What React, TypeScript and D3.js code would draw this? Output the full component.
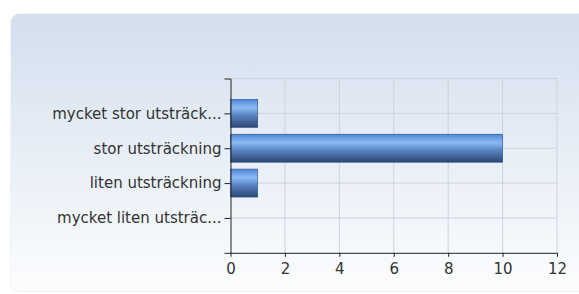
import React, { useEffect, useRef } from 'react';
import * as d3 from 'd3';

const categories = [
  'mycket stor utsträck...',
  'stor utsträckning',
  'liten utsträckning',
  'mycket liten utsträc...',
];
const counts = [1, 10, 1, 0];
const xTicks = [0, 2, 4, 6, 8, 10, 12];

const App = () => {
  const ref = useRef<SVGSVGElement | null>(null);

  useEffect(() => {
    const svg = d3.select(ref.current);
    svg.selectAll('*').remove();

    const left = 230.5;
    const right = 557;
    const top = 78.5;
    const bottom = 252.8;
    const font = '"DejaVu Sans", Verdana, sans-serif';

    const defs = svg.append('defs');
    const bg = defs.append('linearGradient').attr('id', 'bg').attr('x1', 0).attr('y1', 0).attr('x2', 0).attr('y2', 1);
    bg.append('stop').attr('offset', '0%').attr('stop-color', '#d3dfee');
    bg.append('stop').attr('offset', '100%').attr('stop-color', '#fcfdfe');

    const bar = defs.append('linearGradient').attr('id', 'bar').attr('x1', 0).attr('y1', 0).attr('x2', 0).attr('y2', 1);
    bar.append('stop').attr('offset', '0%').attr('stop-color', '#4f86d8');
    bar.append('stop').attr('offset', '30%').attr('stop-color', '#8cbaf4');
    bar.append('stop').attr('offset', '55%').attr('stop-color', '#5d88c6');
    bar.append('stop').attr('offset', '100%').attr('stop-color', '#2a4672');

    // panel
    svg.append('rect')
      .attr('x', 10.5).attr('y', 13.5)
      .attr('width', 600).attr('height', 278)
      .attr('rx', 9)
      .attr('fill', 'url(#bg)')
      .attr('stroke', '#f1f3f6');

    const x = d3.scaleLinear().domain([0, 12]).range([left, right]);
    const y = d3.scalePoint<string>().domain(categories).range([top, bottom]).padding(1);
    const barH = 28;

    const g = svg.append('g');

    // grid
    g.selectAll('.vg')
      .data(xTicks.slice(1))
      .enter().append('line')
      .attr('x1', (d) => x(d)).attr('x2', (d) => x(d))
      .attr('y1', top).attr('y2', bottom)
      .attr('stroke', '#cdd3dc').attr('stroke-width', 1);
    g.selectAll('.hg')
      .data([top, ...categories.map((c) => y(c) as number)])
      .enter().append('line')
      .attr('x1', left).attr('x2', right)
      .attr('y1', (d) => d).attr('y2', (d) => d)
      .attr('stroke', '#cdd3dc').attr('stroke-width', 1);

    // bars
    g.selectAll('.bar')
      .data(categories.map((c, i) => ({ c, v: counts[i] })).filter((d) => d.v > 0))
      .enter().append('rect')
      .attr('x', x(0))
      .attr('y', (d) => (y(d.c) as number) - barH / 2)
      .attr('width', (d) => x(d.v) - x(0))
      .attr('height', barH)
      .attr('fill', 'url(#bar)')
      .attr('stroke', '#2d4f86')
      .attr('stroke-width', 0.6);

    // y axis
    const yAxis = g.append('g')
      .attr('transform', `translate(${left},0)`)
      .call(d3.axisLeft(y).tickSizeInner(6).tickSizeOuter(6).tickPadding(3));
    yAxis.select('.domain').attr('stroke', '#222');
    yAxis.selectAll('.tick line').attr('stroke', '#222');
    yAxis.selectAll('text')
      .attr('fill', '#333')
      .style('font-family', font)
      .style('font-size', '15px');

    // x axis
    const xAxis = g.append('g')
      .attr('transform', `translate(0,${bottom})`)
      .call(d3.axisBottom(x).tickValues(xTicks).tickSizeInner(4).tickSizeOuter(0).tickPadding(7));
    xAxis.select('.domain').attr('stroke', '#222');
    xAxis.selectAll('.tick line').attr('stroke', '#222');
    xAxis.selectAll('text')
      .attr('fill', '#333')
      .style('font-family', font)
      .style('font-size', '15px');
  }, []);

  return (
    <svg
      ref={ref}
      width={579}
      height={294}
      style={{ position: 'absolute', left: 0, top: 0, background: '#fff' }}
    />
  );
};

export default App;
